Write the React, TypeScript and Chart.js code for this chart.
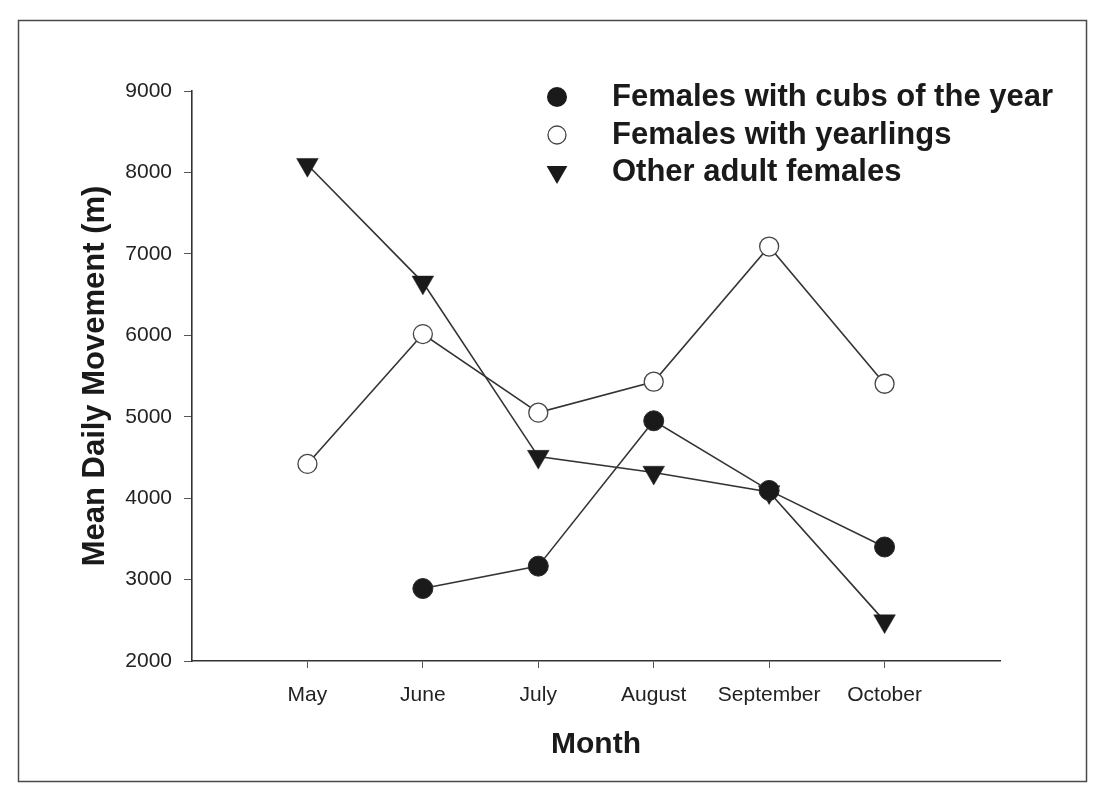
import { useEffect, useRef } from 'react';
import { Chart, registerables } from 'chart.js';

Chart.register(...registerables);

const months = ['May', 'June', 'July', 'August', 'September', 'October'];
const cubsOfYear: (number | null)[] = [null, 2890, 3165, 4950, 4095, 3400];
const yearlings: (number | null)[] = [4420, 6015, 5050, 5430, 7090, 5405];
const otherAdults: (number | null)[] = [8095, 6650, 4510, 4315, 4075, 2490];
const yTickValues = [2000, 3000, 4000, 5000, 6000, 7000, 8000, 9000];
const seriesNames = ['Females with cubs of the year', 'Females with yearlings', 'Other adult females'];
const yTitle = 'Mean Daily Movement (m)';
const xTitle = 'Month';

const FONT = "'Liberation Sans', Arial, Helvetica, sans-serif";
const INK = '#1a1a1a';
const LINE = '#333333';

const toPoints = (vals: (number | null)[]) =>
  vals
    .map((v, i) => ({ x: i + 1, y: v }))
    .filter((p) => p.y !== null) as { x: number; y: number }[];

const framePlugin = {
  id: 'frame',
  beforeDraw(chart: any) {
    const ctx = chart.ctx;
    ctx.save();
    ctx.fillStyle = '#ffffff';
    ctx.fillRect(0, 0, chart.width, chart.height);
    ctx.strokeStyle = '#4a4a4a';
    ctx.lineWidth = 1.5;
    ctx.strokeRect(18.5, 20.5, 1068, 761);
    ctx.restore();
  },
};

const legendPlugin = {
  id: 'insideLegend',
  afterDraw(chart: any) {
    const ctx = chart.ctx;
    const mx = 557;
    const tx = 612;
    const rows = [97, 135, 172];
    ctx.save();
    // filled circle
    ctx.beginPath();
    ctx.arc(mx, rows[0], 10, 0, Math.PI * 2);
    ctx.fillStyle = INK;
    ctx.fill();
    // open circle
    ctx.beginPath();
    ctx.arc(mx, rows[1], 9, 0, Math.PI * 2);
    ctx.fillStyle = '#ffffff';
    ctx.fill();
    ctx.lineWidth = 1.3;
    ctx.strokeStyle = '#444';
    ctx.stroke();
    // down triangle
    const r = 12;
    ctx.beginPath();
    ctx.moveTo(mx, rows[2] + r);
    ctx.lineTo(mx - r * 0.866, rows[2] - r * 0.5);
    ctx.lineTo(mx + r * 0.866, rows[2] - r * 0.5);
    ctx.closePath();
    ctx.fillStyle = INK;
    ctx.fill();
    // labels
    ctx.fillStyle = INK;
    ctx.font = `bold 31px ${FONT}`;
    ctx.textAlign = 'left';
    ctx.textBaseline = 'middle';
    seriesNames.forEach((name, i) => ctx.fillText(name, tx, rows[i]));
    ctx.restore();
  },
};

export default function App() {
  const ref = useRef<HTMLCanvasElement | null>(null);

  useEffect(() => {
    if (!ref.current) return;
    const chart = new Chart(ref.current, {
      type: 'line',
      data: {
        datasets: [
          {
            label: seriesNames[0],
            data: toPoints(cubsOfYear),
            borderColor: LINE,
            borderWidth: 1.6,
            pointStyle: 'circle',
            pointRadius: 10,
            pointBackgroundColor: INK,
            pointBorderColor: '#2a2a2a',
            pointBorderWidth: 1,
            fill: false,
          },
          {
            label: seriesNames[1],
            data: toPoints(yearlings),
            borderColor: LINE,
            borderWidth: 1.6,
            pointStyle: 'circle',
            pointRadius: 9.5,
            pointBackgroundColor: '#ffffff',
            pointBorderColor: '#444',
            pointBorderWidth: 1.3,
            fill: false,
          },
          {
            label: seriesNames[2],
            data: toPoints(otherAdults),
            borderColor: LINE,
            borderWidth: 1.6,
            pointStyle: 'triangle',
            pointRotation: 180,
            pointRadius: 12.5,
            pointBackgroundColor: INK,
            pointBorderColor: INK,
            pointBorderWidth: 0.5,
            fill: false,
          },
        ],
      },
      options: {
        responsive: false,
        animation: false,
        events: [],
        layout: { padding: { top: 91, right: 104, left: 0, bottom: 0 } },
        plugins: {
          legend: { display: false },
          tooltip: { enabled: false },
          title: { display: false },
        },
        scales: {
          x: {
            type: 'linear',
            min: 0,
            max: 7,
            afterBuildTicks: (scale: any) => {
              scale.ticks = months.map((_, i) => ({ value: i + 1 }));
            },
            afterFit: (scale: any) => {
              scale.height = 149;
            },
            ticks: {
              autoSkip: false,
              maxRotation: 0,
              padding: 15,
              color: '#222',
              font: { family: FONT, size: 21 },
              callback: (v: any) => months[Number(v) - 1] ?? '',
            },
            grid: {
              drawOnChartArea: false,
              drawTicks: true,
              tickLength: 7,
              color: '#555',
              lineWidth: 1,
            },
            border: { display: true, color: '#333', width: 1.6 },
            title: {
              display: true,
              text: xTitle,
              color: INK,
              font: { family: FONT, size: 30, weight: 'bold' },
              padding: { top: 0, bottom: 47 },
            },
          },
          y: {
            type: 'linear',
            min: 2000,
            max: 9000,
            afterBuildTicks: (scale: any) => {
              scale.ticks = yTickValues.map((v) => ({ value: v }));
            },
            afterFit: (scale: any) => {
              scale.width = 192;
            },
            ticks: {
              padding: 12,
              color: '#222',
              font: { family: FONT, size: 21 },
              callback: (v: any) => String(v),
            },
            grid: {
              drawOnChartArea: false,
              drawTicks: true,
              tickLength: 8,
              color: '#555',
              lineWidth: 1,
            },
            border: { display: true, color: '#333', width: 1.6 },
            title: {
              display: true,
              text: yTitle,
              color: INK,
              font: { family: FONT, size: 31, weight: 'bold' },
              padding: { top: 77, bottom: 0 },
            },
          },
        },
      },
      plugins: [framePlugin, legendPlugin],
    } as any);
    return () => chart.destroy();
  }, []);

  return (
    <div style={{ position: 'absolute', left: 0, top: 0, width: 1104, height: 810 }}>
      <canvas ref={ref} width={1104} height={810} style={{ display: 'block', width: 1104, height: 810 }} />
    </div>
  );
}
